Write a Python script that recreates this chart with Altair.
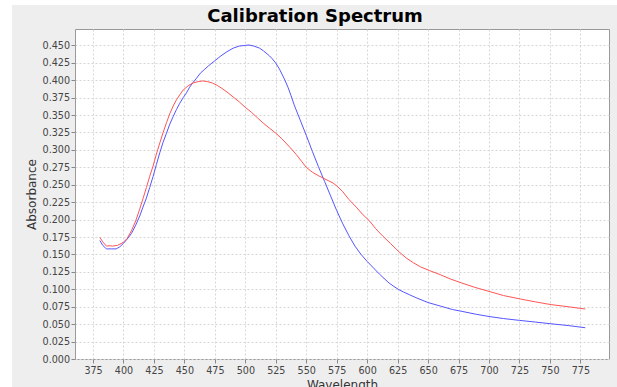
import altair as alt
import pandas as pd

# ---- data ----
blue_wl = [380.6, 383, 386, 390, 394, 397, 400, 403, 406.5, 410, 413.3, 416, 418.8, 421.5, 424.3, 427,
           429.8, 432.5, 435.3, 438, 440.8, 443.5, 446.2, 449, 451.7, 454.3, 457.2, 460, 463, 466.8,
           470, 475, 480, 485, 490, 495, 500, 503, 507, 511.7, 515, 519.8, 522, 525, 528, 532, 535,
           537.5, 540, 545, 550, 555, 560, 565, 570, 575, 580, 585, 590, 595, 600, 605, 610, 613,
           618, 622, 626, 630, 635, 640, 645, 650, 660, 670, 676, 690, 700, 712, 725, 738, 750, 765, 779]
blue_abs = [0.170, 0.163, 0.158, 0.158, 0.158, 0.161, 0.166, 0.172, 0.180, 0.192, 0.205, 0.218, 0.231,
            0.246, 0.262, 0.279, 0.296, 0.311, 0.324, 0.337, 0.348, 0.358, 0.367, 0.375, 0.382, 0.390,
            0.397, 0.403, 0.410, 0.416, 0.421, 0.428, 0.435, 0.441, 0.446, 0.449, 0.450, 0.4505, 0.449,
            0.446, 0.442, 0.435, 0.431, 0.4245, 0.416, 0.402, 0.390, 0.378, 0.365, 0.343, 0.321, 0.298,
            0.276, 0.255, 0.234, 0.213, 0.194, 0.177, 0.162, 0.150, 0.140, 0.131, 0.122, 0.117, 0.109,
            0.104, 0.0995, 0.096, 0.092, 0.088, 0.0845, 0.081, 0.076, 0.071, 0.069, 0.064, 0.061, 0.058,
            0.0554, 0.053, 0.0507, 0.048, 0.0449]

red_wl = [380.6, 383, 386, 389, 391, 395, 399.6, 403, 406.5, 410, 413.3, 416, 418.8, 421.5, 424.3, 427,
          429.8, 432.5, 435.3, 438, 440.8, 443.5, 446.2, 449, 453.1, 457, 461.3, 465, 469, 473, 477,
          481, 485, 490, 495, 500, 505, 510, 515, 520, 525, 530, 537, 542, 546, 550, 555, 560, 564, 568,
          572, 576, 580, 585, 591, 596, 602, 607, 613, 619, 626, 632, 638, 644, 651, 660, 668, 676,
          688, 700, 712, 726, 738, 751, 765, 779]
red_abs = [0.1746, 0.168, 0.162, 0.1625, 0.162, 0.163, 0.167, 0.173, 0.184, 0.198, 0.215, 0.230, 0.246,
           0.262, 0.277, 0.294, 0.310, 0.325, 0.339, 0.352, 0.363, 0.372, 0.379, 0.386, 0.392, 0.396,
           0.398, 0.399, 0.398, 0.396, 0.3925, 0.388, 0.383, 0.376, 0.369, 0.361, 0.354, 0.346, 0.338,
           0.331, 0.324, 0.316, 0.303, 0.293, 0.284, 0.275, 0.268, 0.263, 0.2595, 0.256, 0.2525, 0.247,
           0.240, 0.229, 0.218, 0.208, 0.198, 0.187, 0.176, 0.166, 0.154, 0.145, 0.138, 0.132, 0.127,
           0.121, 0.115, 0.110, 0.103, 0.097, 0.091, 0.086, 0.082, 0.078, 0.075, 0.0717]

x_ticks = [375, 400, 425, 450, 475, 500, 525, 550, 575, 600, 625, 650, 675, 700, 725, 750, 775]
y_ticks = [0.0, 0.025, 0.05, 0.075, 0.1, 0.125, 0.15, 0.175, 0.2, 0.225, 0.25, 0.275, 0.3, 0.325,
           0.35, 0.375, 0.4, 0.425, 0.45]
title_text = ["Calibration Spectrum"]

df_blue = pd.DataFrame({"wl": blue_wl, "abs": blue_abs})
df_red = pd.DataFrame({"wl": red_wl, "abs": red_abs})

FONT = "DejaVu Sans"

x_enc = alt.X(
    "wl:Q",
    scale=alt.Scale(domain=[360.2, 798.5], nice=False, zero=False),
    axis=alt.Axis(
        values=x_ticks, title="Wavelength", format="d",
        labelFont=FONT, labelFontSize=9.6, labelColor="#444444", labelPadding=2,
        tickSize=4, tickColor="#888888", domain=False,
        grid=True, gridColor="#d6d6d6", gridDash=[2, 2], gridWidth=1,
        titleFont=FONT, titleFontSize=12, titleFontWeight="normal", titleColor="#333333",
        titleBaseline="alphabetic", titleY=29, titleX=267, titleAlign="center",
    ),
)
y_enc = alt.Y(
    "abs:Q",
    scale=alt.Scale(domain=[0, 0.4735], nice=False, zero=False),
    axis=alt.Axis(
        values=y_ticks, title="Absorbance", format=".3f",
        labelFont=FONT, labelFontSize=9.6, labelColor="#444444", labelPadding=1.5,
        tickSize=4, tickColor="#888888", domain=False,
        grid=True, gridColor="#d6d6d6", gridDash=[2, 2], gridWidth=1,
        titleFont=FONT, titleFontSize=12, titleFontWeight="normal", titleColor="#333333",
        titleAngle=270, titleBaseline="alphabetic", titleX=-39.5, titleY=165, titleAlign="center",
    ),
)

one = pd.DataFrame({"k": [0]})
# white margin strips outside the grey panel (decoration)
left_strip = alt.Chart(one).mark_rect(color="white").encode(
    x=alt.value(-75), x2=alt.value(-63), y=alt.value(-29), y2=alt.value(358)
)
top_strip = alt.Chart(one).mark_rect(color="white").encode(
    x=alt.value(-75), x2=alt.value(542), y=alt.value(-29), y2=alt.value(-24)
)
title = alt.Chart(pd.DataFrame({"t": title_text})).mark_text(
    font=FONT, fontSize=18, fontWeight="bold", color="#000000",
    align="center", baseline="alphabetic",
).encode(text="t:N", x=alt.value(240), y=alt.value(-7.3))

blue = alt.Chart(df_blue).mark_line(color="#5555ff", strokeWidth=1).encode(x=x_enc, y=y_enc, order="wl:Q")
red = alt.Chart(df_red).mark_line(color="#ff5555", strokeWidth=1).encode(x=x_enc, y=y_enc, order="wl:Q")

chart = alt.layer(left_strip, top_strip, blue, red, title).properties(
    width=534,
    height=330,
    padding={"left": 75, "top": 29, "right": 8, "bottom": 28},
    autosize=alt.AutoSizeParams(type="none"),
    background="#eeeeee",
).configure_view(fill="white", stroke="#999999", strokeWidth=1)

chart.save("out.html", embed_options={"renderer": "svg", "actions": False})
